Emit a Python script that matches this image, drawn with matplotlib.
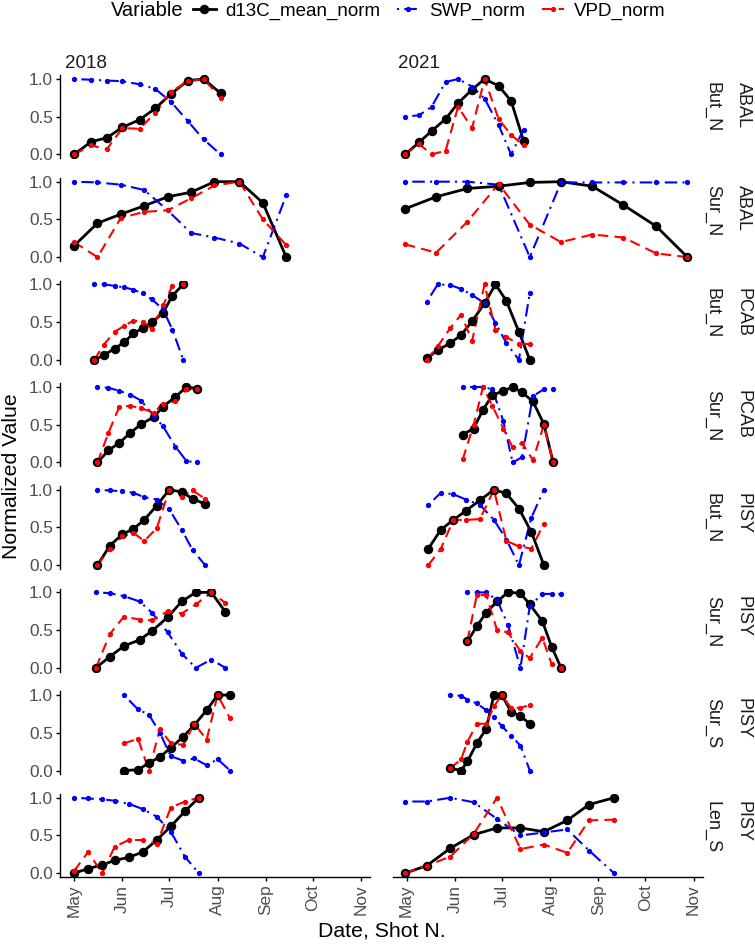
import numpy as np
import pandas as pd
from matplotlib import pyplot as plt
from matplotlib.lines import Line2D
import matplotlib.dates as mdates

plt.rcParams['font.family'] = ['Liberation Sans', 'DejaVu Sans']

years = ['2018', '2021']
species = ['ABAL', 'ABAL', 'PCAB', 'PCAB', 'PISY', 'PISY', 'PISY', 'PISY']
plots = ['But_N', 'Sur_N', 'But_N', 'Sur_N', 'But_N', 'Sur_N', 'Sur_S', 'Len_S']
variables = ['d13C_mean_norm', 'SWP_norm', 'VPD_norm']

# one list per facet row (same order as species / plots)
dates_2018 = [
    ['2018-05-01', '2018-05-12', '2018-05-22', '2018-06-01', '2018-06-12', '2018-06-22', '2018-07-02', '2018-07-13', '2018-07-23', '2018-08-03'],
    ['2018-05-01', '2018-05-16', '2018-05-31', '2018-06-15', '2018-06-30', '2018-07-15', '2018-07-30', '2018-08-15', '2018-08-30', '2018-09-14'],
    ['2018-05-14', '2018-05-20', '2018-05-27', '2018-06-02', '2018-06-08', '2018-06-14', '2018-06-20', '2018-06-27', '2018-07-03', '2018-07-10'],
    ['2018-05-16', '2018-05-23', '2018-05-30', '2018-06-06', '2018-06-13', '2018-06-21', '2018-06-27', '2018-07-05', '2018-07-12', '2018-07-19'],
    ['2018-05-16', '2018-05-24', '2018-06-01', '2018-06-08', '2018-06-15', '2018-06-23', '2018-07-01', '2018-07-09', '2018-07-16', '2018-07-24'],
    ['2018-05-15', '2018-05-24', '2018-06-02', '2018-06-12', '2018-06-20', '2018-06-30', '2018-07-09', '2018-07-18', '2018-07-28', '2018-08-06'],
    ['2018-06-02', '2018-06-11', '2018-06-18', '2018-06-25', '2018-07-02', '2018-07-10', '2018-07-17', '2018-07-25', '2018-08-01', '2018-08-09'],
    ['2018-05-01', '2018-05-10', '2018-05-19', '2018-05-27', '2018-06-05', '2018-06-14', '2018-06-23', '2018-07-02', '2018-07-11', '2018-07-20'],
]
d13c_2018 = [
    [0.0, 0.17, 0.22, 0.36, 0.46, 0.61, 0.80, 0.98, 1.0, 0.81],
    [0.15, 0.45, 0.57, 0.68, 0.80, 0.86, 1.0, 1.0, 0.72, 0.0],
    [0.0, 0.06, 0.15, 0.23, 0.35, 0.42, 0.50, 0.62, 0.85, 1.0],
    [0.0, 0.16, 0.26, 0.39, 0.51, 0.60, 0.74, 0.87, 1.0, 0.98],
    [0.0, 0.26, 0.41, 0.48, 0.60, 0.79, 1.0, 0.97, 0.88, 0.81],
    [0.0, 0.15, 0.29, 0.37, 0.49, 0.67, 0.88, 1.0, 1.0, 0.74],
    [0.0, 0.01, 0.10, 0.18, 0.30, 0.45, 0.60, 0.80, 1.0, 1.0],
    [0.0, 0.06, 0.11, 0.17, 0.21, 0.28, 0.44, 0.62, 0.82, 1.0],
]
swp_2018 = [
    [1.0, 0.99, 0.98, 0.97, 0.93, 0.87, 0.70, 0.44, 0.20, 0.0],
    [1.0, 0.99, 0.96, 0.89, 0.62, 0.32, 0.26, 0.18, 0.0, 0.82],
    [1.0, 1.0, 0.98, 0.96, 0.93, 0.88, 0.80, 0.67, 0.40, 0.0],
    [1.0, 0.99, 0.95, 0.90, 0.82, 0.62, 0.48, 0.21, 0.02, 0.0],
    [1.0, 0.99, 0.98, 0.96, 0.90, 0.87, 0.74, 0.47, 0.20, 0.0],
    [1.0, 0.99, 0.95, 0.88, 0.73, 0.47, 0.19, 0.0, 0.11, 0.0],
    [1.0, 0.81, 0.74, 0.50, 0.19, 0.13, 0.16, 0.07, 0.15, 0.0],
    [1.0, 0.99, 0.98, 0.96, 0.92, 0.85, 0.75, 0.55, 0.22, 0.0],
]
vpd_2018 = [
    [0.0, 0.12, 0.07, 0.35, 0.34, 0.55, 0.83, 0.97, 1.0, 0.75],
    [0.20, 0.0, 0.52, 0.60, 0.62, 0.78, 0.95, 1.0, 0.50, 0.16],
    [0.0, 0.20, 0.37, 0.45, 0.52, 0.50, 0.41, 0.72, 0.98, 1.0],
    [0.0, 0.39, 0.74, 0.75, 0.72, 0.66, 0.78, 0.81, 0.97, 0.98],
    [0.0, 0.22, 0.38, 0.43, 0.32, 0.49, 1.0, 0.91, 0.99, 0.88],
    [0.0, 0.45, 0.68, 0.64, 0.63, 0.75, 0.72, 0.84, 1.0, 0.86],
    [0.36, 0.42, 0.0, 0.55, 0.36, 0.34, 0.62, 0.41, 1.0, 0.69],
    [0.03, 0.28, 0.0, 0.35, 0.44, 0.44, 0.39, 0.87, 0.95, 1.0],
]

dates_2021 = [
    ['2021-04-30', '2021-05-09', '2021-05-17', '2021-05-26', '2021-06-03', '2021-06-12', '2021-06-20', '2021-06-29', '2021-07-07', '2021-07-15'],
    ['2021-04-30', '2021-05-20', '2021-06-09', '2021-06-29', '2021-07-19', '2021-08-08', '2021-08-28', '2021-09-17', '2021-10-08', '2021-10-28'],
    ['2021-05-14', '2021-05-21', '2021-05-29', '2021-06-05', '2021-06-12', '2021-06-20', '2021-06-27', '2021-07-04', '2021-07-12', '2021-07-19'],
    ['2021-06-06', '2021-06-13', '2021-06-19', '2021-06-25', '2021-07-02', '2021-07-08', '2021-07-14', '2021-07-21', '2021-07-28', '2021-08-03'],
    ['2021-05-15', '2021-05-23', '2021-05-31', '2021-06-08', '2021-06-17', '2021-06-26', '2021-07-04', '2021-07-12', '2021-07-20', '2021-07-28'],
    ['2021-06-09', '2021-06-15', '2021-06-21', '2021-06-28', '2021-07-05', '2021-07-13', '2021-07-19', '2021-07-27', '2021-08-02', '2021-08-08'],
    ['2021-05-29', '2021-06-05', '2021-06-09', '2021-06-15', '2021-06-21', '2021-06-26', '2021-07-01', '2021-07-07', '2021-07-13', '2021-07-19'],
    ['2021-04-30', '2021-05-14', '2021-05-29', '2021-06-13', '2021-06-28', '2021-07-13', '2021-07-28', '2021-08-12', '2021-08-26', '2021-09-11'],
]
d13c_2021 = [
    [0.0, 0.16, 0.31, 0.47, 0.68, 0.86, 1.0, 0.91, 0.71, 0.18],
    [0.64, 0.80, 0.91, 0.94, 0.99, 1.0, 0.94, 0.69, 0.41, 0.0],
    [0.02, 0.13, 0.22, 0.33, 0.51, 0.75, 1.0, 0.78, 0.37, 0.0],
    [0.37, 0.45, 0.70, 0.89, 0.95, 1.0, 0.93, 0.81, 0.51, 0.0],
    [0.22, 0.47, 0.60, 0.72, 0.86, 1.0, 0.95, 0.75, 0.44, 0.0],
    [0.35, 0.55, 0.73, 0.88, 1.0, 0.99, 0.84, 0.62, 0.28, 0.0],
    [0.03, 0.0, 0.12, 0.36, 0.55, 1.0, 1.0, 0.78, 0.72, 0.62],
    [0.0, 0.10, 0.33, 0.51, 0.60, 0.60, 0.55, 0.70, 0.91, 1.0],
]
swp_2021 = [
    [0.50, 0.52, 0.63, 0.96, 1.0, 0.90, 0.74, 0.39, 0.0, 0.33],
    [1.0, 1.0, 1.0, 0.96, 0.0, 0.99, 0.99, 0.99, 0.99, 0.99],
    [0.77, 1.0, 0.99, 0.94, 0.86, 0.75, 0.49, 0.22, 0.0, 0.89],
    [1.0, 1.0, 1.0, 0.97, 0.55, 0.0, 0.07, 0.88, 0.97, 0.98],
    [0.80, 0.96, 0.94, 0.87, 0.80, 0.60, 0.34, 0.0, 0.63, 1.0],
    [1.0, 1.0, 1.0, 0.90, 0.57, 0.0, 0.82, 0.98, 0.98, 0.98],
    [1.0, 0.99, 0.94, 0.89, 0.80, 0.71, 0.59, 0.46, 0.33, 0.0],
    [0.95, 0.95, 1.0, 0.94, 0.72, 0.50, 0.54, 0.58, 0.30, 0.0],
]
vpd_2021 = [
    [0.0, 0.14, 0.0, 0.05, 0.63, 0.35, 1.0, 0.47, 0.26, 0.12],
    [0.17, 0.06, 0.47, 0.97, 0.43, 0.20, 0.30, 0.26, 0.05, 0.0],
    [0.0, 0.18, 0.42, 0.60, 0.25, 1.0, 0.40, 0.30, 0.21, 0.21],
    [0.04, 0.50, 1.0, 0.75, 0.45, 0.20, 0.26, 0.03, 0.50, 0.0],
    [0.0, 0.22, 0.60, 0.60, 0.61, 1.0, 0.32, 0.25, 0.22, 0.55],
    [0.36, 0.96, 0.97, 0.50, 0.47, 0.22, 0.13, 0.40, 0.05, 0.0],
    [0.03, 0.15, 0.38, 0.62, 0.62, 0.85, 1.0, 0.83, 0.83, 0.87],
    [0.0, 0.10, 0.22, 0.52, 1.0, 0.32, 0.38, 0.27, 0.70, 0.71],
]


def to_season(dates):
    # both years go on one calendar so the columns share the month axis
    return pd.to_datetime(dates).map(lambda t: t.replace(year=2021))


line_colors = ['black', 'blue', 'red']
line_styles = [dict(lw=2.0), dict(lw=1.5, dashes=(1, 2.5, 6, 2.5)), dict(lw=1.5, dashes=(5, 3))]

fig, axes = plt.subplots(8, 2, figsize=(7.55, 9.44), dpi=100, sharex=True, sharey=True)
fig.subplots_adjust(left=0.0795, right=0.9311, top=0.9203, bottom=0.0710, hspace=0.237, wspace=0.071)

columns = [(dates_2018, d13c_2018, swp_2018, vpd_2018),
           (dates_2021, d13c_2021, swp_2021, vpd_2021)]

for j, (dates, d13c, swp, vpd) in enumerate(columns):
    for i in range(8):
        ax = axes[i, j]
        x = to_season(dates[i])
        series = [d13c[i], swp[i], vpd[i]]
        # lines first, then the points on top (like ggplot layers)
        for k in range(3):
            ax.plot(x, series[k], color=line_colors[k], zorder=2, **line_styles[k])
        ax.plot(x, d13c[i], 'o', color='black', ms=5.8, zorder=3)
        ax.plot(x, swp[i], 'o', color='blue', ms=2.8, zorder=4)
        ax.plot(x, vpd[i], 'o', color='red', ms=2.8, zorder=5)

        for s in ['top', 'right']:
            ax.spines[s].set_visible(False)
        ax.spines['left'].set_visible(j == 0)
        ax.spines['bottom'].set_visible(i == 7)
        ax.spines['left'].set_linewidth(1.0)
        ax.spines['bottom'].set_linewidth(1.0)

        ax.tick_params(axis='y', length=3, width=1, labelsize=12.4, labelcolor='#4D4D4D', pad=2)
        ax.tick_params(axis='x', length=3, width=1, labelsize=12.4, labelcolor='#4D4D4D', pad=2.5,
                       labelrotation=90)
        if j == 1:
            ax.tick_params(axis='y', left=False, labelleft=False)
            ax.text(1 + 40.5 / 310.5, 1 - 7 / 83, species[i], transform=ax.transAxes,
                    rotation=-90, ha='center', va='top', fontsize=13, color='#1A1A1A')
            ax.text(1 + 9.5 / 310.5, 1 - 7 / 83, plots[i], transform=ax.transAxes,
                    rotation=-90, ha='center', va='top', fontsize=13, color='#1A1A1A')
        if i < 7:
            ax.tick_params(axis='x', bottom=False, labelbottom=False)
        if i == 0:
            ax.text(5 / 310.5, 1 + 7.2 / 83, years[j], transform=ax.transAxes,
                    ha='left', va='baseline', fontsize=13.5, color='#1A1A1A')

axes[0, 0].set_ylim(-0.05, 1.05)
axes[0, 0].set_yticks([0, 0.5, 1.0])
axes[0, 0].set_yticklabels(['0.0', '0.5', '1.0'])
axes[0, 0].set_xlim(pd.Timestamp('2021-04-22'), pd.Timestamp('2021-11-07'))
axes[7, 0].set_xticks(pd.date_range('2021-05-01', '2021-11-01', freq='MS'))
axes[7, 0].xaxis.set_major_formatter(mdates.DateFormatter('%b'))

fig.text(381.5 / 755, 1 - 931 / 944, 'Date, Shot N.', ha='center', va='center', fontsize=15.3)
fig.text(12 / 755, 1 - 476 / 944, 'Normalized Value', ha='center', va='center', rotation=90, fontsize=15.3)

handles = [Line2D([], [], color='black', lw=2.0, marker='o', ms=5.8),
           Line2D([], [], color='blue', lw=1.5, dashes=(1, 2.5, 6, 2.5), marker='o', ms=2.8),
           Line2D([], [], color='red', lw=1.5, dashes=(5, 3), marker='o', ms=2.8)]
fig.text(111 / 755, 1 - 11 / 944, 'Variable', ha='left', va='center', fontsize=14.5)
fig.legend(handles, variables, loc='center left', bbox_to_anchor=(193 / 755, 1 - 11 / 944), ncol=3,
           frameon=False, fontsize=13.5, handlelength=1.2, handletextpad=0.5, columnspacing=0.9,
           borderaxespad=0, borderpad=0)

fig.savefig('out.png', dpi=100)
